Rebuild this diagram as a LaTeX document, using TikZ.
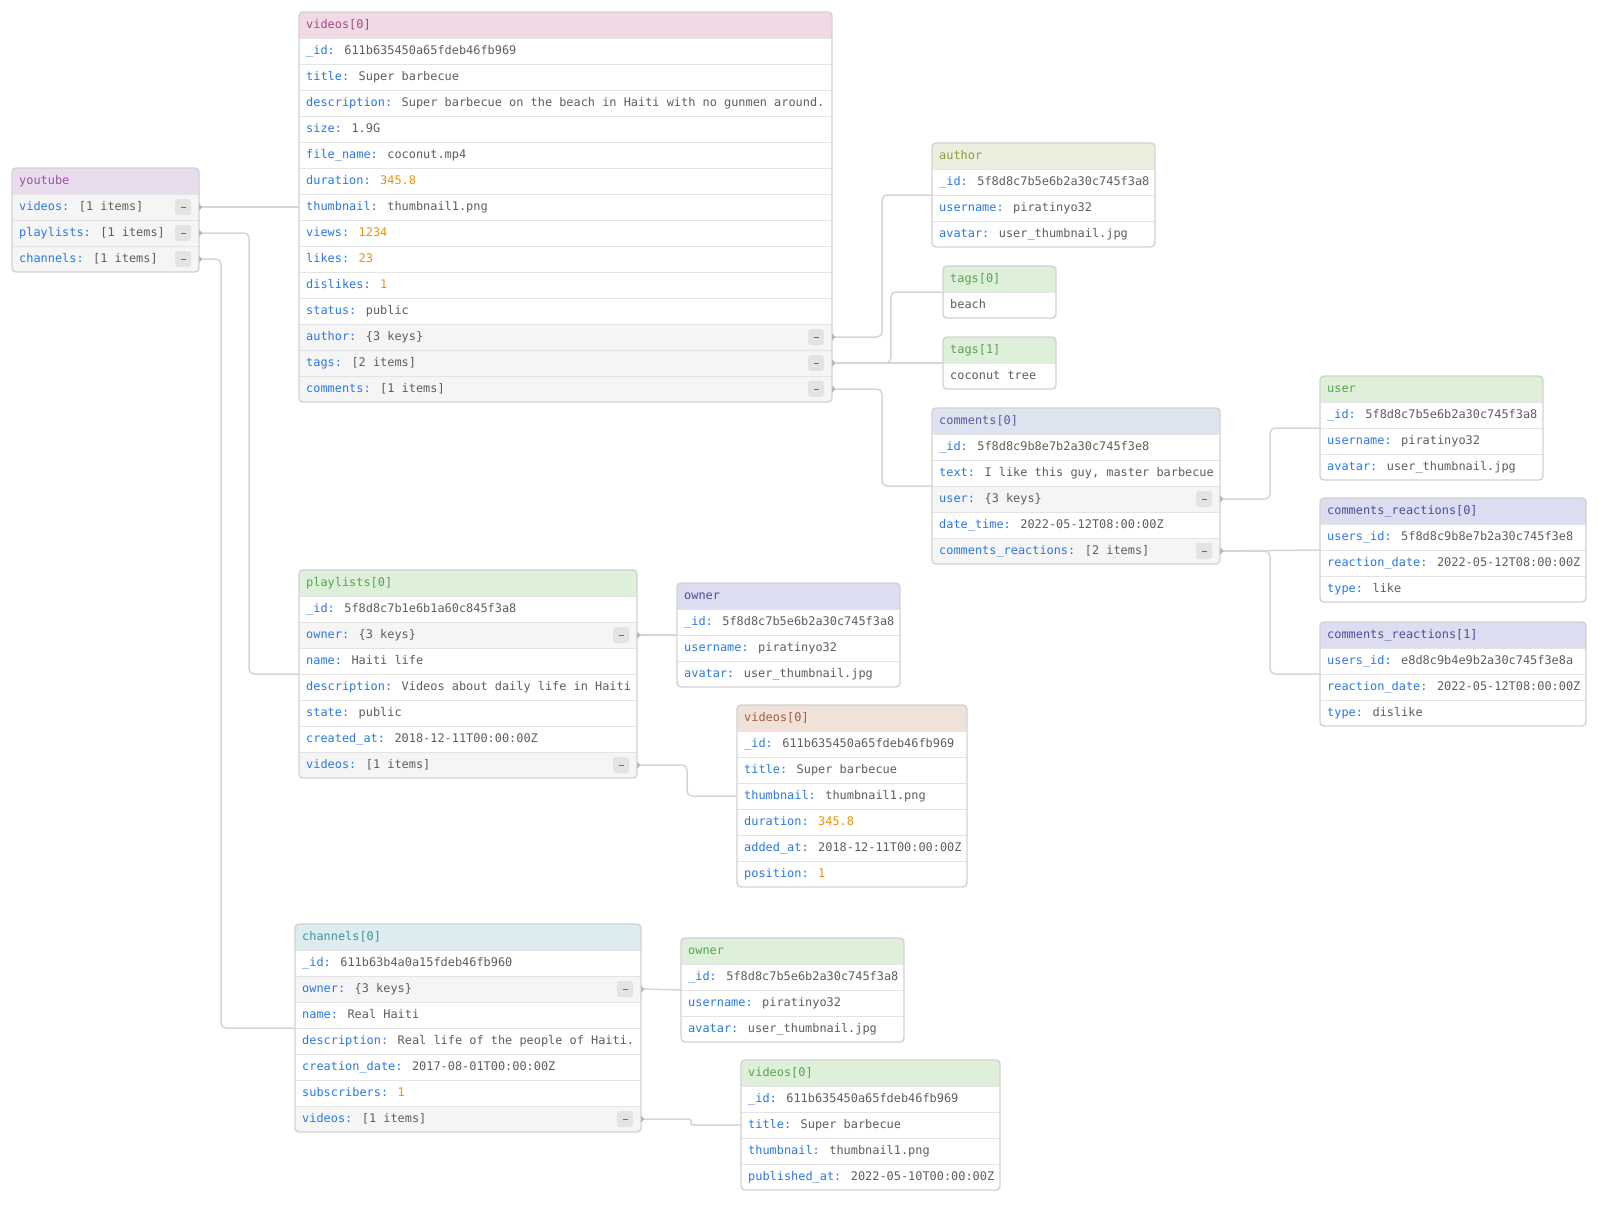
\documentclass[tikz,border=0pt]{standalone}
\usepackage{fontspec}
\usetikzlibrary{calc}
\newfontfamily\jmono{DejaVu Sans Mono}

\definecolor{keyblue}{HTML}{2B78E4}
\definecolor{valgray}{HTML}{5E5E5E}
\definecolor{numorange}{HTML}{E8930C}
\definecolor{framegray}{HTML}{D2D2D2}
\definecolor{divgray}{HTML}{E4E4E4}
\definecolor{rowgray}{HTML}{F5F5F5}
\definecolor{btngray}{HTML}{E3E3E3}
\definecolor{dashgray}{HTML}{6E6E6E}
\definecolor{conngray}{HTML}{D6D6D6}
\definecolor{markgray}{HTML}{B8B8B8}
% header fills and header texts
\definecolor{hPurple}{HTML}{EADCEF}   \definecolor{tPurple}{HTML}{9A52A6}
\definecolor{hPink}{HTML}{F1DAE6}     \definecolor{tPink}{HTML}{A64A82}
\definecolor{hOlive}{HTML}{ECEFDD}    \definecolor{tOlive}{HTML}{8D9A3F}
\definecolor{hGreen}{HTML}{DEEFDA}    \definecolor{tGreen}{HTML}{55A64C}
\definecolor{hBlue}{HTML}{DEE3F0}     \definecolor{tBlue}{HTML}{52609E}
\definecolor{hLav}{HTML}{DCDDF0}      \definecolor{tLav}{HTML}{4B4E9B}
\definecolor{hPeach}{HTML}{F0E1D9}    \definecolor{tPeach}{HTML}{A05F3C}
\definecolor{hTeal}{HTML}{DCECF0}     \definecolor{tTeal}{HTML}{3E9898}

\newcount\rowi
\tikzset{
  frame/.style={draw=framegray, line width=1.4pt, rounded corners=4pt},
  divider/.style={draw=divgray, line width=1pt},
  txt/.style={font=\fontsize{11.9}{14}\jmono, inner sep=0pt, anchor=base west, text=valgray},
  btn/.style={fill=btngray, rounded corners=3pt, minimum width=16pt, minimum height=16pt,
              inner sep=0pt},
  btndash/.style={draw=dashgray, line width=1pt},
  conn/.style={draw=conngray, line width=1.5pt, rounded corners=5pt},
  rowbox/.style={inner sep=0pt, outer sep=0pt, minimum height=26pt, anchor=north west},
}

\newcommand\kv[1]{\if\relax\detokenize{#1}\relax\else\textcolor{keyblue}{#1:}\space\fi}
\newcommand\nv[1]{\textcolor{numorange}{#1}}

% box: name, x, y, width, height, header fill, header text colour, title
\newcommand\dbox[8]{%
  \gdef\curname{#1}\gdef\curx{#2}\gdef\cury{#3}\gdef\curw{#4}%
  \global\rowi=1
  \node[inner sep=0pt, outer sep=0pt, minimum width=#4pt, minimum height=#5pt,
        anchor=north west, fill=white, rounded corners=4pt] (#1) at (#2,#3) {};
  \begin{scope}
    \clip[rounded corners=4pt] (#1.north west) rectangle (#1.south east);
    \fill[#6] (#1.north west) rectangle ++(#4,26);
  \end{scope}
  \node[txt, text=#7] at ({#2+7},{#3+16.5}) {#8};
}
% plain row: id, key, value
\newcommand\drow[3]{%
  \pgfmathsetmacro\rt{\cury+26*\the\rowi}%
  \node[rowbox, minimum width=\curw pt] (\curname-#1) at (\curx,\rt) {};
  \draw[divider] (\curx,\rt) -- ++(\curw,0);
  \node[txt] at ({\curx+7},{\rt+16.5}) {\kv{#2}#3};
  \global\advance\rowi by 1
}
% expandable row with a collapse button
\newcommand\xrow[3]{%
  \pgfmathsetmacro\rt{\cury+26*\the\rowi}%
  \begin{scope}
    \clip[rounded corners=4pt] (\curname.north west) rectangle (\curname.south east);
    \fill[rowgray] (\curx,\rt) rectangle ++(\curw,26);
  \end{scope}
  \drow{#1}{#2}{#3}
  \node[btn] (\curname-#1-btn) at ({\curx+\curw-16},{\rt+13}) {};
  \draw[btndash] ([xshift=-2.5pt,yshift=-0.5pt]\curname-#1-btn.center) -- ++(5,0);
}
\newcommand\ebox{\draw[frame] (\curname.north west) rectangle (\curname.south east);}

% connectors
\newcommand\port[1]{\fill[markgray] (#1.east) ++(0,-3.5) -- ++(3.5,3.5) -- ++(-3.5,3.5) -- cycle;}
\newcommand\elbow[3][0.5]{%
  \draw[conn] (#2.east) -| ($(#2.east)!#1!(#3.west)$) |- (#3.west);
  \port{#2}
}
\newcommand\straight[2]{%
  \draw[conn] (#1.east) -- (#2.west);
  \port{#1}
}

\begin{document}
\begin{tikzpicture}[x=1pt, y=-1pt]
\fill[white] (0,0) rectangle (1598,1221);
\useasboundingbox (0,0) rectangle (1598,1221);

% root document
\dbox{yt}{12}{168}{187}{104}{hPurple}{tPurple}{youtube}
\xrow{videos}{videos}{[1 items]}
\xrow{playlists}{playlists}{[1 items]}
\xrow{channels}{channels}{[1 items]}
\ebox

% video
\dbox{vid}{299}{12}{533}{390}{hPink}{tPink}{videos[0]}
\drow{id}{\_id}{611b635450a65fdeb46fb969}
\drow{title}{title}{Super barbecue}
\drow{desc}{description}{Super barbecue on the beach in Haiti with no gunmen around.}
\drow{size}{size}{1.9G}
\drow{file}{file\_name}{coconut.mp4}
\drow{dur}{duration}{\nv{345.8}}
\drow{thumb}{thumbnail}{thumbnail1.png}
\drow{views}{views}{\nv{1234}}
\drow{likes}{likes}{\nv{23}}
\drow{dislikes}{dislikes}{\nv{1}}
\drow{status}{status}{public}
\xrow{author}{author}{\{3 keys\}}
\xrow{tags}{tags}{[2 items]}
\xrow{comments}{comments}{[1 items]}
\ebox

\dbox{author}{932}{143}{223}{104}{hOlive}{tOlive}{author}
\drow{id}{\_id}{5f8d8c7b5e6b2a30c745f3a8}
\drow{user}{username}{piratinyo32}
\drow{avatar}{avatar}{user\_thumbnail.jpg}
\ebox

\dbox{tagA}{943}{266}{113}{52}{hGreen}{tGreen}{tags[0]}
\drow{v}{}{beach}
\ebox

\dbox{tagB}{943}{337}{113}{52}{hGreen}{tGreen}{tags[1]}
\drow{v}{}{coconut tree}
\ebox

\dbox{com}{932}{408}{288}{156}{hBlue}{tBlue}{comments[0]}
\drow{id}{\_id}{5f8d8c9b8e7b2a30c745f3e8}
\drow{text}{text}{I like this guy, master barbecue}
\xrow{user}{user}{\{3 keys\}}
\drow{date}{date\_time}{2022-05-12T08:00:00Z}
\xrow{reac}{comments\_reactions}{[2 items]}
\ebox

\dbox{cuser}{1320}{376}{223}{104}{hGreen}{tGreen}{user}
\drow{id}{\_id}{5f8d8c7b5e6b2a30c745f3a8}
\drow{user}{username}{piratinyo32}
\drow{avatar}{avatar}{user\_thumbnail.jpg}
\ebox

\dbox{reacA}{1320}{498}{266}{104}{hLav}{tLav}{comments\_reactions[0]}
\drow{uid}{users\_id}{5f8d8c9b8e7b2a30c745f3e8}
\drow{date}{reaction\_date}{2022-05-12T08:00:00Z}
\drow{type}{type}{like}
\ebox

\dbox{reacB}{1320}{622}{266}{104}{hLav}{tLav}{comments\_reactions[1]}
\drow{uid}{users\_id}{e8d8c9b4e9b2a30c745f3e8a}
\drow{date}{reaction\_date}{2022-05-12T08:00:00Z}
\drow{type}{type}{dislike}
\ebox

% playlist
\dbox{pl}{299}{570}{338}{208}{hGreen}{tGreen}{playlists[0]}
\drow{id}{\_id}{5f8d8c7b1e6b1a60c845f3a8}
\xrow{owner}{owner}{\{3 keys\}}
\drow{name}{name}{Haiti life}
\drow{desc}{description}{Videos about daily life in Haiti}
\drow{state}{state}{public}
\drow{created}{created\_at}{2018-12-11T00:00:00Z}
\xrow{videos}{videos}{[1 items]}
\ebox

\dbox{plowner}{677}{583}{223}{104}{hLav}{tLav}{owner}
\drow{id}{\_id}{5f8d8c7b5e6b2a30c745f3a8}
\drow{user}{username}{piratinyo32}
\drow{avatar}{avatar}{user\_thumbnail.jpg}
\ebox

\dbox{plvid}{737}{705}{230}{182}{hPeach}{tPeach}{videos[0]}
\drow{id}{\_id}{611b635450a65fdeb46fb969}
\drow{title}{title}{Super barbecue}
\drow{thumb}{thumbnail}{thumbnail1.png}
\drow{dur}{duration}{\nv{345.8}}
\drow{added}{added\_at}{2018-12-11T00:00:00Z}
\drow{pos}{position}{\nv{1}}
\ebox

% channel
\dbox{ch}{295}{924}{346}{208}{hTeal}{tTeal}{channels[0]}
\drow{id}{\_id}{611b63b4a0a15fdeb46fb960}
\xrow{owner}{owner}{\{3 keys\}}
\drow{name}{name}{Real Haiti}
\drow{desc}{description}{Real life of the people of Haiti.}
\drow{created}{creation\_date}{2017-08-01T00:00:00Z}
\drow{subs}{subscribers}{\nv{1}}
\xrow{videos}{videos}{[1 items]}
\ebox

\dbox{chowner}{681}{938}{223}{104}{hGreen}{tGreen}{owner}
\drow{id}{\_id}{5f8d8c7b5e6b2a30c745f3a8}
\drow{user}{username}{piratinyo32}
\drow{avatar}{avatar}{user\_thumbnail.jpg}
\ebox

\dbox{chvid}{741}{1060}{259}{130}{hGreen}{tGreen}{videos[0]}
\drow{id}{\_id}{611b635450a65fdeb46fb969}
\drow{title}{title}{Super barbecue}
\drow{thumb}{thumbnail}{thumbnail1.png}
\drow{pub}{published\_at}{2022-05-10T00:00:00Z}
\ebox

% links from collapsible rows to their child boxes
\straight{yt-videos}{vid}
\elbow{yt-playlists}{pl}
\elbow[0.23]{yt-channels}{ch}
\elbow{vid-author}{author}
\elbow[0.53]{vid-tags}{tagA}
\straight{vid-tags}{tagB}
\elbow{vid-comments}{com}
\elbow{com-user}{cuser}
\straight{com-reac}{reacA}
\elbow{com-reac}{reacB}
\straight{pl-owner}{plowner}
\elbow{pl-videos}{plvid}
\straight{ch-owner}{chowner}
\begin{scope}[conn/.append style={rounded corners=2.5pt}]
  \elbow{ch-videos}{chvid}
\end{scope}
\end{tikzpicture}
\end{document}
